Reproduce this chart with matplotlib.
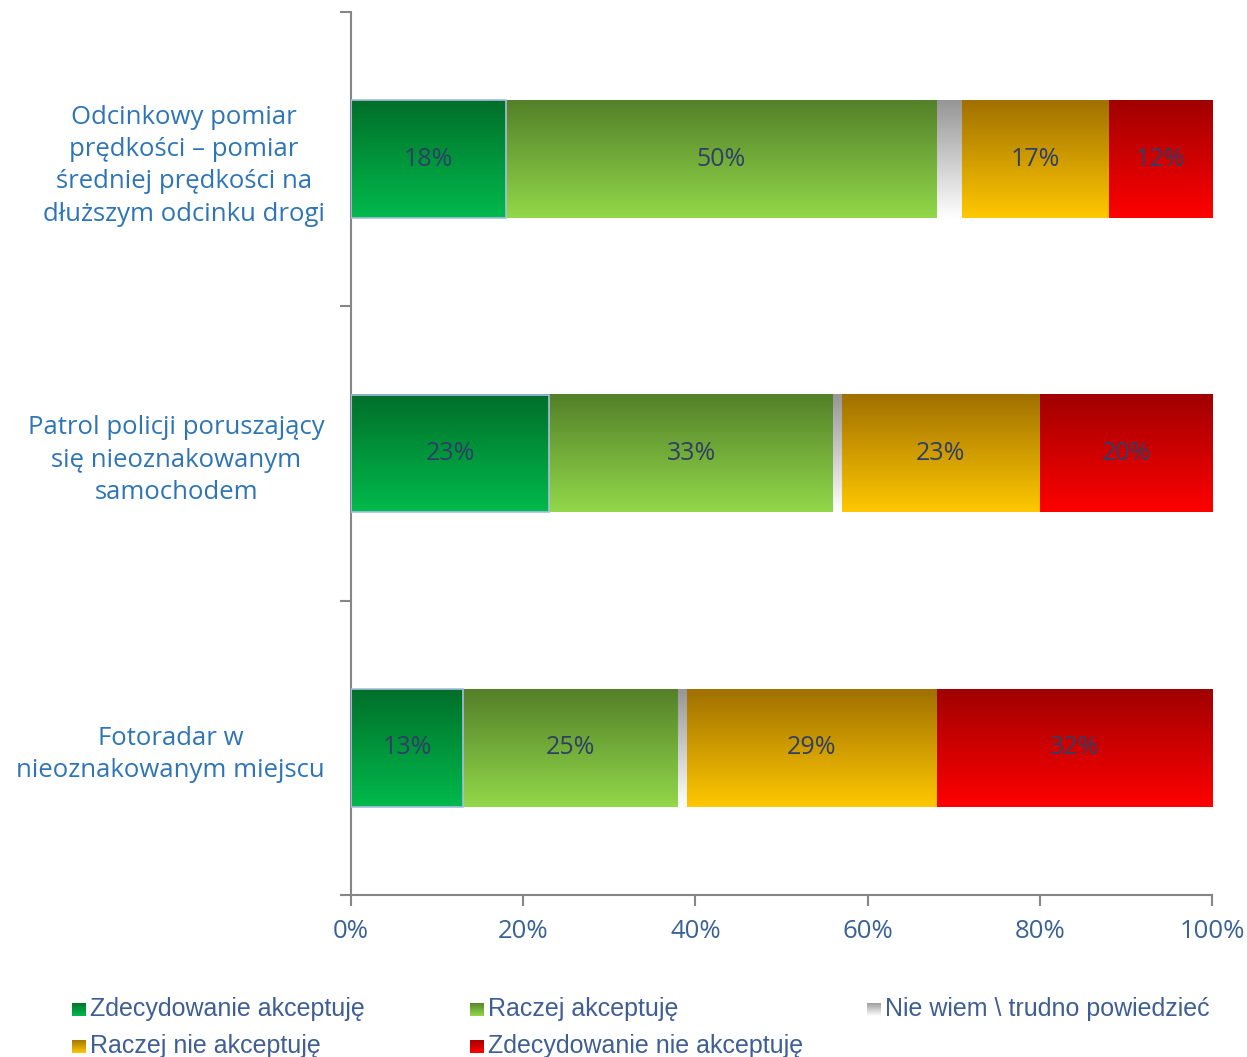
import numpy as np
import matplotlib
matplotlib.use('Agg')
import matplotlib.pyplot as plt
from matplotlib.colors import LinearSegmentedColormap

# Survey answers, share of respondents in percent
categories = ['Odcinkowy pomiar\nprędkości – pomiar\nśredniej prędkości na\ndłuższym odcinku drogi',
              'Patrol policji poruszający\nsię nieoznakowanym\nsamochodem',
              'Fotoradar w\nnieoznakowanym miejscu']
series_names = ['Zdecydowanie akceptuję', 'Raczej akceptuję', 'Nie wiem \\ trudno powiedzieć',
                'Raczej nie akceptuję', 'Zdecydowanie nie akceptuję']
zdecydowanie_tak = [18, 23, 13]
raczej_tak = [50, 33, 25]
nie_wiem = [3, 1, 1]
raczej_nie = [17, 23, 29]
zdecydowanie_nie = [12, 20, 32]
x_ticks = [0, 20, 40, 60, 80, 100]

series = [zdecydowanie_tak, raczej_tak, nie_wiem, raczej_nie, zdecydowanie_nie]
# gradient (top colour, bottom colour) for each answer
gradients = [('#006F2A', '#00BA4C'), ('#538029', '#92D84A'), ('#969696', '#FFFFFF'),
             ('#A07000', '#FFC800'), ('#A00000', '#FF0000')]
show_label = [True, True, False, True, True]

plt.rcParams['font.family'] = ['Open Sans', 'DejaVu Sans']

fig = plt.figure(figsize=(12.47, 10.57), dpi=100)
ax = fig.add_axes([0.2815, 0.1533, 0.6905, 0.8353])

ypos = np.arange(len(categories))[::-1]  # first category on top
bar_h = 0.4
grad = np.linspace(0, 1, 256).reshape(-1, 1)

left = np.zeros(len(categories))
for k, vals in enumerate(series):
    cmap = LinearSegmentedColormap.from_list('g%d' % k, gradients[k])
    for i, v in enumerate(vals):
        x0 = left[i]
        yc = ypos[i]
        ax.imshow(grad, cmap=cmap, extent=(x0, x0 + v, yc - bar_h / 2, yc + bar_h / 2),
                  origin='upper', aspect='auto', zorder=2)
        if k == 0:
            ax.add_patch(plt.Rectangle((x0, yc - bar_h / 2), v, bar_h, fill=False,
                                       edgecolor='#A9BDE3', linewidth=1.2, zorder=3))
        if show_label[k]:
            ax.text(x0 + v / 2, yc, '%d%%' % v, ha='center', va='center',
                    fontsize=18, color='#2F3F66', zorder=4)
    left += np.array(vals)

ax.set_xlim(0, 100)
ax.set_ylim(-0.5, len(categories) - 0.5)

for s in ['top', 'right']:
    ax.spines[s].set_visible(False)
for s in ['left', 'bottom']:
    ax.spines[s].set_color('#868686')
    ax.spines[s].set_linewidth(1.5)

ax.set_xticks(x_ticks)
ax.set_xticklabels(['%d%%' % t for t in x_ticks], fontsize=18.5, color='#3A6296')
ax.tick_params(axis='x', length=8, width=1.5, color='#868686', pad=9)

# boundary ticks between categories, labels sit on minor ticks at bar centres
ax.set_yticks(np.arange(-0.5, len(categories), 1.0))
ax.set_yticklabels([])
ax.tick_params(axis='y', which='major', length=8, width=1.5, color='#868686')
ax.set_yticks(ypos, minor=True)
ax.set_yticklabels(categories, minor=True, fontsize=18.5, color='#2E75B6',
                   multialignment='center', linespacing=1.38)
ax.tick_params(axis='y', which='minor', length=0, pad=19)

# legend with gradient swatches
leg_cols = [0.058, 0.377, 0.695]
leg_rows = [0.045, 0.010]
for k, name in enumerate(series_names):
    cx = leg_cols[k % 3]
    ry = leg_rows[k // 3]
    cmap = LinearSegmentedColormap.from_list('l%d' % k, gradients[k])
    sw = fig.add_axes([cx, ry - 0.0065, 0.0105, 0.013])
    sw.imshow(grad, cmap=cmap, aspect='auto', origin='upper')
    sw.set_axis_off()
    fig.text(cx + 0.0145, ry, name, ha='left', va='center', fontsize=18,
             color='#3E5E94', family=['Liberation Sans', 'DejaVu Sans'])

fig.savefig('out.png', dpi=100)
